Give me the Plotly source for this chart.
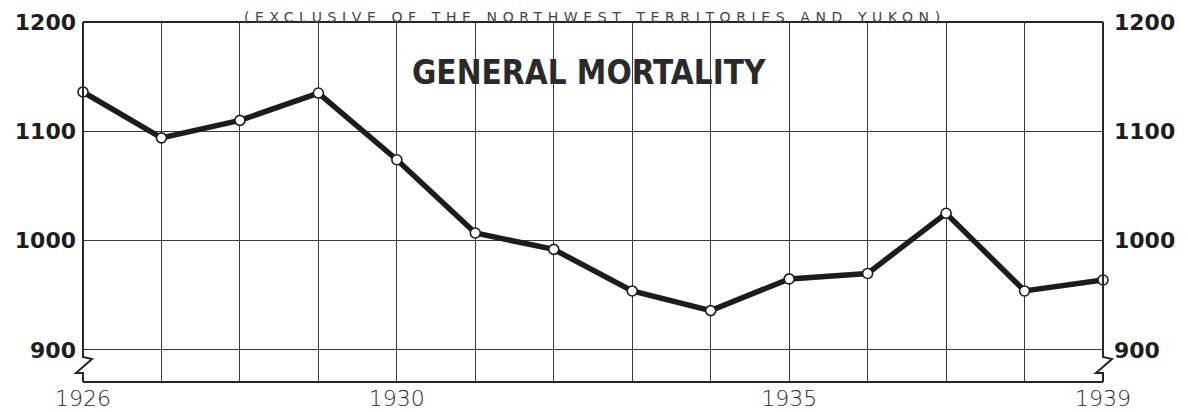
import plotly.graph_objects as go

# ---- data ----
years = [1926, 1927, 1928, 1929, 1930, 1931, 1932, 1933, 1934, 1935, 1936, 1937, 1938, 1939]
mortality = [1136, 1094, 1110, 1135, 1074, 1007, 992, 954, 936, 965, 970, 1025, 954, 964]
x_tick_text = ["1926", "", "", "", "1930", "", "", "", "", "1935", "", "", "", "1939"]
y_ticks = [900, 1000, 1100, 1200]
y_tick_text = ["900", "1000", "1100", "1200"]
title_text = "GENERAL MORTALITY"
subtitle_text = "(EXCLUSIVE OF THE NORTHWEST TERRITORIES AND YUKON)"

# the page body adds an 8px offset, so the figure is 8px smaller
W, H = 1180, 404
ML, MR, MT, MB = 75, 85, 14, 30
Y_RANGE = [870.7, 1200]
X_RANGE = [years[0], years[-1]]
PW, PH = W - ML - MR, H - MT - MB
INK = "#262626"


def px_x(p):
    return p / PW


def px_y(p):
    return p / PH


fig = go.Figure()
fig.add_trace(go.Scatter(
    x=years, y=mortality, mode="lines+markers",
    line=dict(color="#1c1c1c", width=5.5),
    marker=dict(size=10, color="white", line=dict(color="#1c1c1c", width=1.6)),
    hoverinfo="skip", showlegend=False, cliponaxis=False,
))
fig.add_trace(go.Scatter(
    x=years, y=mortality, mode="lines", opacity=0, yaxis="y2",
    hoverinfo="skip", showlegend=False,
))

shapes = []
shapes.append(dict(type="rect", xref="x", yref="y", x0=1929.3, x1=1935.5, y0=1106, y1=1188,
                   fillcolor="white", line=dict(width=0), layer="below"))
shapes.append(dict(type="rect", xref="x", yref="y", x0=1926.1, x1=1938.9, y0=880, y1=887.5,
                   fillcolor="white", line=dict(width=0), layer="below"))
shapes.append(dict(type="line", xref="paper", yref="paper", x0=0, x1=1, y0=1, y1=1,
                   line=dict(color=INK, width=2.2), layer="above"))
shapes.append(dict(type="line", xref="paper", yref="paper", x0=0, x1=1, y0=0, y1=0,
                   line=dict(color=INK, width=2.2), layer="above"))


def zig_path(xp):
    pts = [(0, PH), (0, 25), (9, 23), (-7, 9), (0, 9), (0, 0)]
    s = ""
    for i, (dx, dy) in enumerate(pts):
        s += ("M" if i == 0 else "L") + f"{xp + px_x(dx):.5f},{px_y(dy):.5f} "
    return s


for xp in (0, 1):
    shapes.append(dict(type="path", xref="paper", yref="paper", path=zig_path(xp),
                       line=dict(color=INK, width=2), layer="above"))

yfont = dict(family="DejaVu Sans, sans-serif", size=22, color="#1e1e1e", weight="bold")

fig.update_layout(
    width=W, height=H,
    margin=dict(l=ML, r=MR, t=MT, b=MB, autoexpand=False),
    paper_bgcolor="white", plot_bgcolor="white",
    shapes=shapes,
    xaxis=dict(
        range=X_RANGE, tickvals=years, ticktext=x_tick_text, automargin=False,
        showgrid=True, gridcolor="#3a3a3a", gridwidth=1.4,
        zeroline=False, showline=False, ticks="",
        tickfont=dict(family="DejaVu Sans, sans-serif", size=22, color="#2a2a2a", weight=300),
        ticklabelstandoff=1,
    ),
    yaxis=dict(
        range=Y_RANGE, tickvals=y_ticks, ticktext=y_tick_text, automargin=False,
        showgrid=True, gridcolor="#3a3a3a", gridwidth=1.4,
        zeroline=False, showline=False, ticks="",
        tickfont=yfont, ticklabelstandoff=6,
    ),
    yaxis2=dict(
        range=Y_RANGE, tickvals=y_ticks, ticktext=y_tick_text, overlaying="y", side="right",
        automargin=False, showgrid=False, zeroline=False, showline=False, ticks="",
        tickfont=yfont, ticklabelstandoff=10,
    ),
    annotations=[
        dict(text=title_text, xref="x", yref="y", x=1932.45, y=1154, showarrow=False,
             font=dict(family="DejaVu Sans Condensed, DejaVu Sans, sans-serif", size=33,
                       color="#2a2a2a", weight="bold")),
        dict(text='<span style="letter-spacing:5.6px">' + subtitle_text + '</span>',
             xref="paper", yref="paper", x=(595 - 8 - ML) / PW, y=1,
             yanchor="top", yshift=MT + 1, showarrow=False,
             font=dict(family="DejaVu Sans, sans-serif", size=14, color="#444")),
    ],
)

fig.write_html("out.html")
